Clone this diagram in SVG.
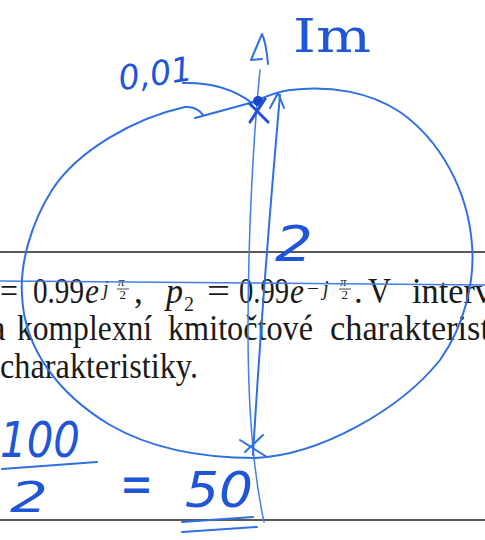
<svg xmlns="http://www.w3.org/2000/svg" width="485" height="540" viewBox="0 0 485 540">
<style>
.pr{font-family:"Liberation Serif","DejaVu Serif",serif;fill:#1a1a1a;font-size:35px}
.it{font-style:italic}
.sm{font-size:20px}
.xs{font-size:13px}
.rule{stroke:#222;stroke-width:1.6;fill:none}
.pen{stroke:#2f6fe3;stroke-width:2;fill:none;stroke-linecap:round;stroke-linejoin:round}
.thin{stroke:#3f7fe6;stroke-width:1.5;fill:none;stroke-linecap:round}
.ink{stroke:#1f50d6;stroke-width:3;fill:none;stroke-linecap:round;stroke-linejoin:round}
.hw{font-family:"DejaVu Sans","Liberation Sans",sans-serif;fill:#1f55d8;font-style:italic}
</style>
<rect width="485" height="540" fill="#fff"/>
<!-- printed page -->
<g id="page">
<line class="rule" x1="0" y1="252" x2="485" y2="252"/>
<line class="rule" x1="0" y1="520" x2="485" y2="520"/>
<text class="pr" x="0" y="303" textLength="18" lengthAdjust="spacingAndGlyphs">=</text>
<text class="pr" x="33" y="303" textLength="51" lengthAdjust="spacingAndGlyphs">0.99</text>
<text class="pr it" x="85" y="303" textLength="14" lengthAdjust="spacingAndGlyphs">e</text>
<text class="pr it sm" x="103" y="295">j</text>
<text class="pr it xs" x="118" y="286">π</text>
<line x1="117" y1="289" x2="129" y2="289" stroke="#1a1a1a" stroke-width="0.8"/>
<text class="pr xs" x="119.5" y="299">2</text>
<text class="pr" x="134" y="303">,</text>
<text class="pr it" x="166" y="303" textLength="17" lengthAdjust="spacingAndGlyphs">p</text>
<text class="pr sm" x="184" y="311">2</text>
<text class="pr" x="207" y="303" textLength="23" lengthAdjust="spacingAndGlyphs">=</text>
<text class="pr" x="239" y="303" textLength="50" lengthAdjust="spacingAndGlyphs">0.99</text>
<text class="pr it" x="290" y="303" textLength="14" lengthAdjust="spacingAndGlyphs">e</text>
<text class="pr sm" x="307" y="295" textLength="12" lengthAdjust="spacingAndGlyphs">−</text>
<text class="pr it sm" x="323" y="295">j</text>
<text class="pr it xs" x="340" y="286">π</text>
<line x1="339" y1="289" x2="351" y2="289" stroke="#1a1a1a" stroke-width="0.8"/>
<text class="pr xs" x="341.5" y="299">2</text>
<text class="pr" x="354" y="303">.</text>
<text class="pr" x="368" y="303" textLength="23" lengthAdjust="spacingAndGlyphs">V</text>
<text class="pr" x="412" y="303" textLength="80" lengthAdjust="spacingAndGlyphs">interv</text>
<text class="pr" x="-10" y="340">a</text>
<text class="pr" x="17" y="340" textLength="135" lengthAdjust="spacingAndGlyphs">komplexní</text>
<text class="pr" x="168" y="340" textLength="145" lengthAdjust="spacingAndGlyphs">kmitočtové</text>
<text class="pr" x="330" y="340" textLength="160" lengthAdjust="spacingAndGlyphs">charakterist</text>
<text class="pr" x="0" y="378" textLength="198" lengthAdjust="spacingAndGlyphs">charakteristiky.</text>
</g>
<!-- handwritten plot -->
<g id="axes">
<path class="thin" d="M0,281 L485,285"/>
<path class="thin" d="M260,70 C254,130 248,230 248,330 C248,420 255,480 264,522"/>
<path class="pen" d="M251,60 L262,34 Q266,42 268,64 M251,60 L262,59"/>
</g>
<g id="circle">
<path class="pen" d="M203,115 Q197,106 185,107 C135,118 78,150 52,190 C30,225 20,265 22,295 C24,350 60,395 110,425 C150,448 200,458 255,458 C320,455 400,410 440,360 C465,325 475,280 472,245 C468,190 440,140 400,112 C370,92 330,85 290,90 C275,92 262,98 250,103 L195,118"/>
<path class="pen" d="M183,83 Q225,82 252,103"/>
</g>
<g id="vector">
<path class="pen" d="M253,455 Q262,300 280,95"/>
<path class="pen" d="M270,108 L278,93 L284,108"/>
</g>
<g id="poles">
<circle cx="258" cy="101" r="5" fill="#1a44c8"/>
<path class="ink" d="M250,104 L268,122 M265,99 L250,122"/>
<path class="pen" d="M240,440 L267,457 M263,435 L245,452"/>
</g>
<g id="labels">
<text class="hw" x="118" y="86" font-size="34" transform="rotate(-8 150 72)" textLength="74" lengthAdjust="spacingAndGlyphs">0,01</text>
<text x="293" y="52" font-family="DejaVu Serif,serif" font-size="46" fill="#1f55d8" textLength="78" lengthAdjust="spacingAndGlyphs">Im</text>
<text class="hw" x="275" y="261" font-size="50" textLength="38" lengthAdjust="spacingAndGlyphs">2</text>
<text class="hw" x="0" y="457" font-size="50" textLength="80" lengthAdjust="spacingAndGlyphs">100</text>
<path class="pen" d="M2,469 L97,462"/>
<text class="hw" x="10" y="512" font-size="42" textLength="38" lengthAdjust="spacingAndGlyphs">2</text>
<text class="hw" x="120" y="503" font-size="56" textLength="33" lengthAdjust="spacingAndGlyphs">=</text>
<text class="hw" x="185" y="507" font-size="50" textLength="68" lengthAdjust="spacingAndGlyphs">50</text>
<path class="pen" d="M182,522 L253,517 M182,532 L257,527"/>
</g>
</svg>
